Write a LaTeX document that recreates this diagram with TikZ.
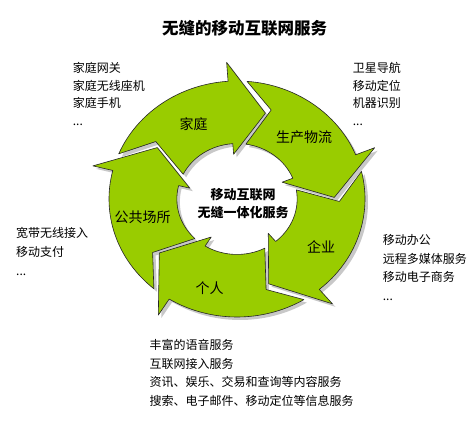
\documentclass[tikz,border=0pt]{standalone}
\usepackage{fontspec}
\setmainfont{Noto Sans CJK SC}
\usepackage{tikz}
\usetikzlibrary{calc}
\definecolor{vert}{RGB}{153,204,0}

\begin{document}
\begin{tikzpicture}[x=1pt, y=1pt,
    fleche/.style={insert path={(157.5:1) arc[start angle=157.5, end angle=94, radius=1]
        -- (94:1.16) -- (73:0.76) -- (94:0.38) -- (94:0.47)
        arc[start angle=94, end angle=153.5, radius=0.47] -- (142.5:0.80) -- cycle}},
    liste/.style={anchor=north west, inner sep=0pt, align=left},
    etiquette/.style={inner sep=0pt, font=\fontsize{14}{16}\selectfont}]
    % Cadre
    \fill[white] (0,0) rectangle (476,423);
    \useasboundingbox (0,0) rectangle (476,423);

    % Titre
    \node[font=\fontsize{16.5}{18}\selectfont\bfseries] (titre) at (244.5,395) {无缝的移动互联网服务};

    % Ombres des fleches
    \begin{scope}[shift={(240,221)}, xscale=128, yscale=118]
        \foreach \k in {0,...,4}
            \fill[black!30, opacity=0.7, rotate=-72*\k, fleche];
    \end{scope}

    % Fleches du cycle
    \begin{scope}[shift={(237,224)}, xscale=128, yscale=118]
        \foreach \k in {0,...,4}
            \filldraw[fill=vert, draw=black!85, line width=0.6pt, line join=round, rotate=-72*\k, fleche];
    \end{scope}

    % Centre
    \node[align=center, font=\fontsize{13}{18}\selectfont\bfseries] (centre) at (243,219) {移动互联网\\无缝一体化服务};

    % Etiquettes des fleches
    \node[etiquette] (famille) at (193.5,299) {家庭};
    \node[etiquette] (logistique) at (304,286) {生产物流};
    \node[etiquette] (entreprise) at (321,176) {企业};
    \node[etiquette] (individu) at (209.5,135) {个人};
    \node[etiquette] (public) at (142.5,206) {公共场所};

    % Listes de services
    \node[liste, font=\fontsize{12}{17.5}\selectfont] (lfamille) at (72.7,360.6) {家庭网关\\家庭无线座机\\家庭手机\\...};
    \node[liste, font=\fontsize{12}{17.5}\selectfont] (llogistique) at (352.7,360.6) {卫星导航\\移动定位\\机器识别\\...};
    \node[liste, font=\fontsize{12}{18.7}\selectfont] (lpublic) at (16,195.6) {宽带无线接入\\移动支付\\...};
    \node[liste, font=\fontsize{12}{18.7}\selectfont] (lentreprise) at (382.7,188.9) {移动办公\\远程多媒体服务\\移动电子商务\\...};
    \node[liste, font=\fontsize{12}{18.7}\selectfont] (lindividu) at (149.3,83.9) {丰富的语音服务\\互联网接入服务\\资讯、娱乐、交易和查询等内容服务\\搜索、电子邮件、移动定位等信息服务};
\end{tikzpicture}
\end{document}
